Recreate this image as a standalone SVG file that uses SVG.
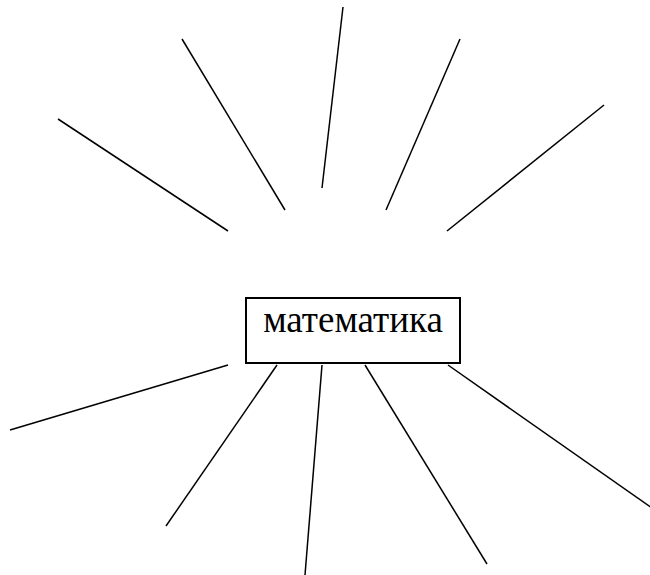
<svg xmlns="http://www.w3.org/2000/svg" width="650" height="575" viewBox="0 0 650 575">
<style>
.ln{stroke:#000;stroke-width:1.5;fill:none}
.box{fill:#fff;stroke:#000;stroke-width:2}
.lbl{font-family:"Liberation Serif","Times New Roman",serif;font-size:37px;fill:#000;text-anchor:middle}
</style>
<rect width="650" height="575" fill="#fff"/>
<g id="connectors">
<line class="ln" x1="58" y1="119" x2="228" y2="231"/>
<line class="ln" x1="182" y1="39" x2="285" y2="210"/>
<line class="ln" x1="343" y1="7" x2="322" y2="188"/>
<line class="ln" x1="460" y1="39" x2="386" y2="210"/>
<line class="ln" x1="604" y1="105" x2="447" y2="231"/>
<line class="ln" x1="228" y1="365" x2="10" y2="430"/>
<line class="ln" x1="277" y1="365" x2="166" y2="526"/>
<line class="ln" x1="322" y1="365" x2="305" y2="575"/>
<line class="ln" x1="365" y1="365" x2="487" y2="564"/>
<line class="ln" x1="448" y1="365" x2="652" y2="508"/>
</g>
<g id="node-math">
<rect class="box" x="246" y="298" width="214" height="65"/>
<text class="lbl" x="353" y="332">математика</text>
</g>
</svg>
